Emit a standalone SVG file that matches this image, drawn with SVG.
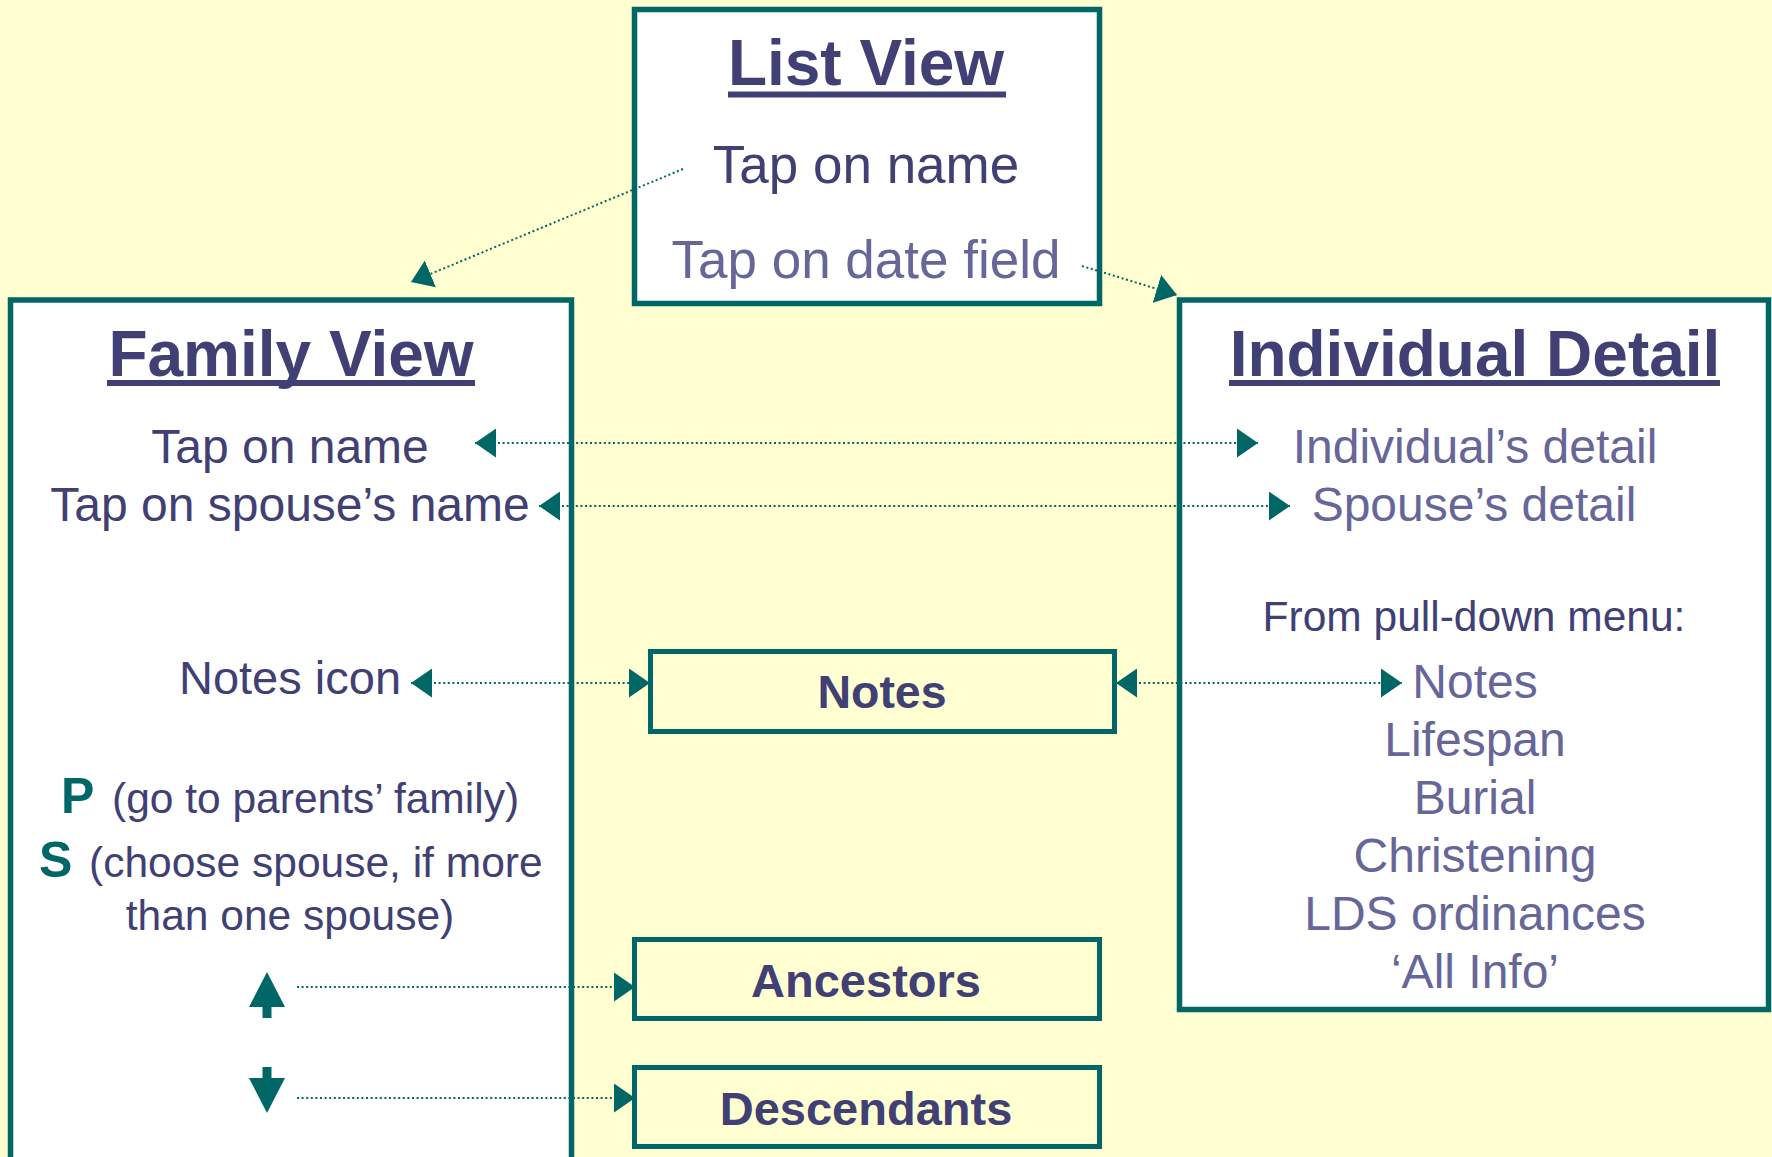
<svg xmlns="http://www.w3.org/2000/svg" width="1772" height="1157" viewBox="0 0 1772 1157">
<style>
.box{fill:#ffffff;stroke:#006666;stroke-width:5.5}
.sbox{fill:#ffffd2;stroke:#006666;stroke-width:5}
text{font-family:"Liberation Sans",Arial,sans-serif}
.title{font-size:64px;font-weight:bold;fill:#404074;text-anchor:middle}
.uline{fill:#404074}
.dark{fill:#404074}
.light{fill:#666699}
.mid{text-anchor:middle}
.bold{font-weight:bold}
.teal{fill:#006666}
.dot{stroke:#006666;stroke-width:2;stroke-dasharray:2 2.6;fill:none}
</style>
<defs>
<marker id="ah" viewBox="0 0 21 29" refX="21" refY="14.5" markerWidth="21" markerHeight="29" markerUnits="userSpaceOnUse" orient="auto-start-reverse">
<path d="M0,0 L21,14.5 L0,29 z" fill="#006666"/>
</marker>
</defs>
<rect x="0" y="0" width="1772" height="1157" fill="#ffffd2"/>

<g id="list-view">
<rect class="box" x="634.5" y="9.5" width="465" height="294"/>
<text class="title" x="866" y="85">List View</text>
<rect class="uline" x="728" y="91.5" width="278" height="6"/>
<text class="dark mid" x="866" y="183" font-size="53">Tap on name</text>
<text class="light mid" x="866" y="278" font-size="53">Tap on date field</text>
</g>

<g id="family-view">
<rect class="box" x="10.5" y="300" width="561" height="900"/>
<text class="title" x="291" y="376">Family View</text>
<rect class="uline" x="107" y="380" width="368" height="6"/>
<text class="dark mid" x="290" y="463" font-size="48">Tap on name</text>
<text class="dark mid" x="290" y="521" font-size="48">Tap on spouse’s name</text>
<text class="dark mid" x="290" y="694" font-size="47">Notes icon</text>
<text class="teal bold" x="61" y="813" font-size="50">P</text>
<text class="dark" x="112" y="813" font-size="42.5">(go to parents’ family)</text>
<text class="teal bold" x="39" y="877" font-size="50">S</text>
<text class="dark" x="89" y="877" font-size="42.5">(choose spouse, if more</text>
<text class="dark mid" x="290" y="930" font-size="42.5">than one spouse)</text>
<g id="up-arrow" fill="#006666">
<polygon points="267,972 249,1007 285,1007"/>
<rect x="262.5" y="1006" width="9" height="12"/>
</g>
<g id="down-arrow" fill="#006666">
<rect x="262.5" y="1067" width="9" height="12"/>
<polygon points="249,1078 285,1078 267,1113"/>
</g>
</g>

<g id="individual-detail">
<rect class="box" x="1179.5" y="300" width="589" height="709.5"/>
<text class="title" x="1475" y="376">Individual Detail</text>
<rect class="uline" x="1229" y="380" width="491" height="6"/>
<text class="light mid" x="1475" y="463" font-size="48">Individual’s detail</text>
<text class="light mid" x="1474" y="521" font-size="48">Spouse’s detail</text>
<text class="dark mid" x="1474" y="631" font-size="42.5">From pull-down menu:</text>
<text class="light mid" x="1475" y="698" font-size="48">Notes</text>
<text class="light mid" x="1475" y="756" font-size="48">Lifespan</text>
<text class="light mid" x="1475" y="814" font-size="48">Burial</text>
<text class="light mid" x="1475" y="872" font-size="48">Christening</text>
<text class="light mid" x="1475" y="930" font-size="48">LDS ordinances</text>
<text class="light mid" x="1475" y="988" font-size="48">‘All Info’</text>
</g>

<g id="notes">
<rect class="sbox" x="650.5" y="651.5" width="464" height="80"/>
<text class="dark mid bold" x="882" y="708" font-size="46.5">Notes</text>
</g>

<g id="ancestors">
<rect class="sbox" x="634.5" y="939.5" width="465" height="79"/>
<text class="dark mid bold" x="866" y="997" font-size="47">Ancestors</text>
</g>

<g id="descendants">
<rect class="sbox" x="634.5" y="1067.5" width="465" height="79"/>
<text class="dark mid bold" x="866" y="1125" font-size="47">Descendants</text>
</g>

<g id="connectors">
<line class="dot" x1="683" y1="169" x2="411" y2="282" marker-end="url(#ah)"/>
<line class="dot" x1="1082" y1="266" x2="1177" y2="295" marker-end="url(#ah)"/>
<line class="dot" x1="475" y1="443" x2="1258" y2="443" marker-start="url(#ah)" marker-end="url(#ah)"/>
<line class="dot" x1="539" y1="506" x2="1290" y2="506" marker-start="url(#ah)" marker-end="url(#ah)"/>
<line class="dot" x1="411" y1="683" x2="650" y2="683" marker-start="url(#ah)" marker-end="url(#ah)"/>
<line class="dot" x1="1116" y1="683" x2="1402" y2="683" marker-start="url(#ah)" marker-end="url(#ah)"/>
<line class="dot" x1="297" y1="987" x2="635" y2="987" marker-end="url(#ah)"/>
<line class="dot" x1="297" y1="1098" x2="635" y2="1098" marker-end="url(#ah)"/>
</g>
</svg>
